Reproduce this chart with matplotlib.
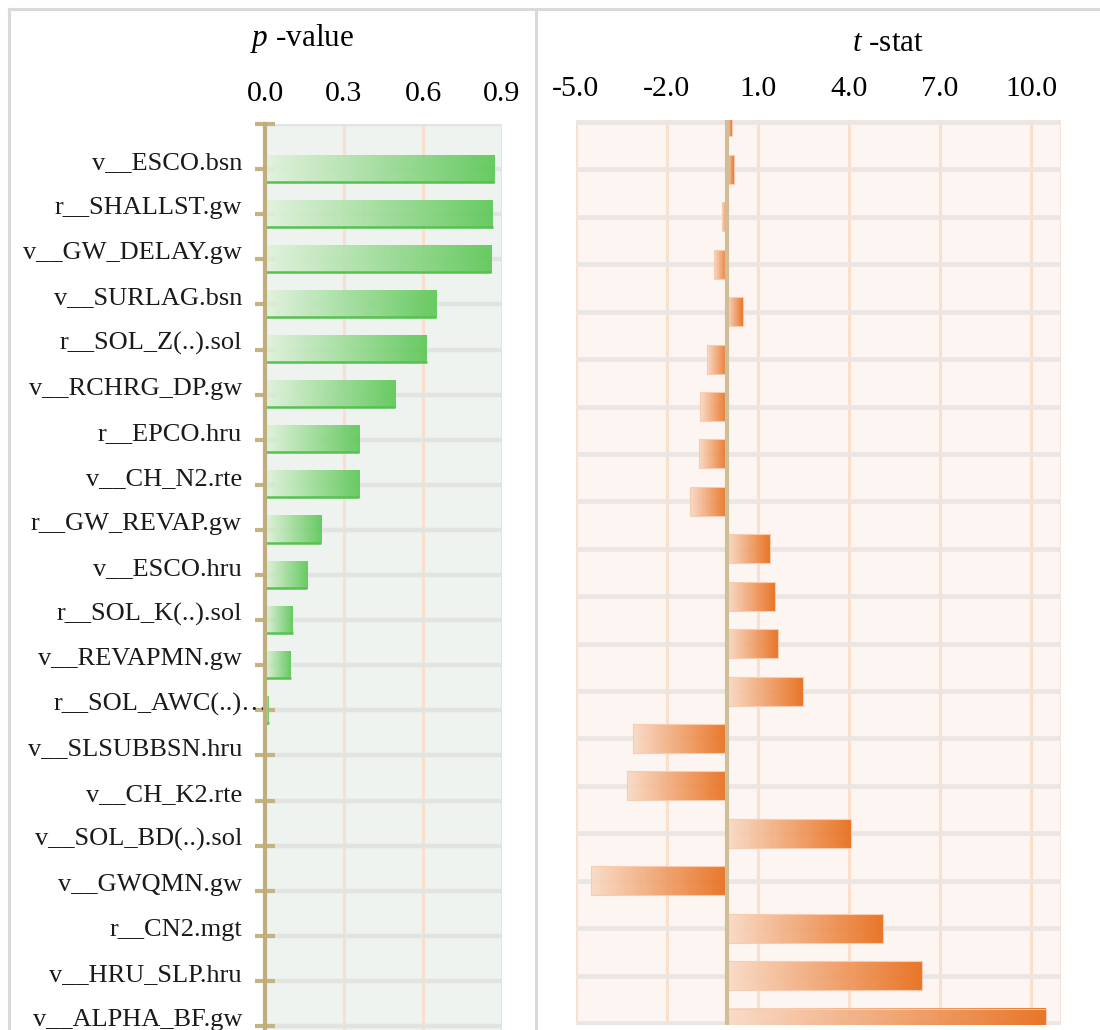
import numpy as np
import matplotlib
matplotlib.use("Agg")
import matplotlib.pyplot as plt
from matplotlib.colors import LinearSegmentedColormap
from matplotlib.lines import Line2D

plt.rcParams['font.family'] = 'Liberation Serif'
plt.rcParams['mathtext.fontset'] = 'custom'
plt.rcParams['mathtext.rm'] = 'Liberation Serif'
plt.rcParams['mathtext.it'] = 'Liberation Serif:italic'
plt.rcParams['axes.unicode_minus'] = False

# parameter names, top to bottom
params = ["v__ESCO.bsn", "r__SHALLST.gw", "v__GW_DELAY.gw", "v__SURLAG.bsn",
          "r__SOL_Z(..).sol", "v__RCHRG_DP.gw", "r__EPCO.hru", "v__CH_N2.rte",
          "r__GW_REVAP.gw", "v__ESCO.hru", "r__SOL_K(..).sol", "v__REVAPMN.gw",
          "r__SOL_AWC(..)\u2026", "v__SLSUBBSN.hru", "v__CH_K2.rte",
          "v__SOL_BD(..).sol", "v__GWQMN.gw", "r__CN2.mgt", "v__HRU_SLP.hru",
          "v__ALPHA_BF.gw"]
p_value = [0.870, 0.865, 0.860, 0.650, 0.615, 0.494, 0.357, 0.357, 0.213, 0.160,
           0.106, 0.097, 0.015, 0.004, 0.004, 0.004, 0.003, 0.003, 0.001, 0.000]
t_stat = [0.15, 0.20, -0.18, -0.45, 0.51, -0.69, -0.89, -0.93, -1.22, 1.40,
          1.58, 1.65, 2.50, -3.10, -3.30, 4.08, -4.48, 5.13, 6.41, 10.49]

p_ticks = [0.0, 0.3, 0.6, 0.9]
t_ticks = [-5.0, -2.0, 1.0, 4.0, 7.0, 10.0]

W, H = 1100, 1030
fig = plt.figure(figsize=(W / 100, H / 100), dpi=100)


def fx(px):
    return px / W


def fy(px):
    return 1 - px / H


green = LinearSegmentedColormap.from_list("g", ["#e2f2de", "#5ec858"])
orange = LinearSegmentedColormap.from_list("o", ["#f9dac6", "#e86d1a"])
grad = np.linspace(0, 1, 256).reshape(1, -1)


def gradient_bars(ax, bars, cmap):
    for bar in bars:
        x, y = bar.get_xy()
        w, h = bar.get_width(), bar.get_height()
        x0, x1 = sorted([x, x + w])
        if x1 - x0 <= 0:
            continue
        ax.imshow(grad, extent=[x0, x1, y + h, y], aspect='auto', cmap=cmap,
                  alpha=0.93, zorder=3, interpolation='bilinear')


# ---- left panel: p-value
axl = fig.add_axes([fx(265), fy(1048.6), fx(237), (1048.6 - 124) / H])
axl.set_facecolor("#eef3ef")
pos_l = np.arange(1, len(params) + 1)
for v in p_ticks[1:]:
    axl.axvline(v, color="#fadfcd", lw=2.2, zorder=1)
for y in range(0, len(params) + 1):
    axl.axhline(y, color="#e1e4e0", lw=3.2, zorder=1)
bars_l = axl.barh(pos_l, p_value, height=0.6, facecolor='none',
                  edgecolor='none', zorder=4)
gradient_bars(axl, bars_l, green)
axl.hlines(pos_l + 0.28, 0, p_value, color="#55c250", lw=1.8, zorder=5)
axl.set_xlim(0, 0.9)
axl.set_ylim(20.5, 0)
axl.xaxis.tick_top()
axl.set_xticks(p_ticks)
axl.set_xticklabels([f"{v:.1f}" for v in p_ticks], fontsize=21.5)
axl.tick_params(axis='x', length=0, pad=12)
axl.set_yticks(range(0, len(params) + 1))
axl.set_yticklabels([])
axl.tick_params(axis='y', direction='inout', length=15, width=3,
                color="#c4b383")
for s in ["top", "right", "bottom"]:
    axl.spines[s].set_visible(False)
axl.spines["left"].set_color("#bfae7c")
axl.spines["left"].set_linewidth(3)
axl.spines["left"].set_zorder(6)

for i, name in enumerate(params):
    xr = 268 if name.endswith("\u2026") else 242
    axl.text((xr - 265) / 237, pos_l[i], name, transform=axl.get_yaxis_transform(),
             ha='right', va='baseline', fontsize=19, color="#1a1a1a")

fig.text(fx(302), fy(46), "$p$ -value", ha='center', va='baseline', fontsize=22.5)

# ---- right panel: t-stat
axr = fig.add_axes([fx(575.7), fy(1025), fx(485.7), (1025 - 120) / H])
axr.set_facecolor("#fdf5f1")
pos_r = np.arange(len(t_stat))
for v in t_ticks:
    axr.axvline(v, color="#fadfcd", lw=2.2, zorder=1)
axr.axvline(11, color="#fbe6da", lw=1.5, zorder=1)
for y in pos_r:
    axr.axhline(y, color="#ece6e2", lw=3.4, zorder=1)
bars_r = axr.barh(pos_r, t_stat, height=0.61, facecolor='none',
                  edgecolor="#f7cdb2", lw=0.8, zorder=4)
gradient_bars(axr, bars_r, orange)
axr.axvline(0, color="#cfbe96", lw=3, zorder=6)
axr.set_xlim(-5, 11)
axr.set_ylim(19 + 2 / 47.4, -2 / 47.4)
axr.xaxis.tick_top()
axr.set_xticks(t_ticks)
axr.set_xticklabels([f"{v:.1f}" for v in t_ticks], fontsize=21.5)
axr.tick_params(axis='x', length=0, pad=13)
axr.set_yticks([])
for s in axr.spines.values():
    s.set_visible(False)

fig.text(fx(888), fy(51), "$t$ -stat", ha='center', va='baseline', fontsize=22.5)

# panel frame
frame = dict(color="#d9d9d9", lw=2.2, transform=fig.transFigure)
fig.add_artist(Line2D([fx(9), 1], [fy(9), fy(9)], **frame))
fig.add_artist(Line2D([fx(9), fx(9)], [fy(9), 0], **frame))
fig.add_artist(Line2D([fx(536), fx(536)], [fy(9), 0], **frame))

fig.savefig("out.png", dpi=100)
